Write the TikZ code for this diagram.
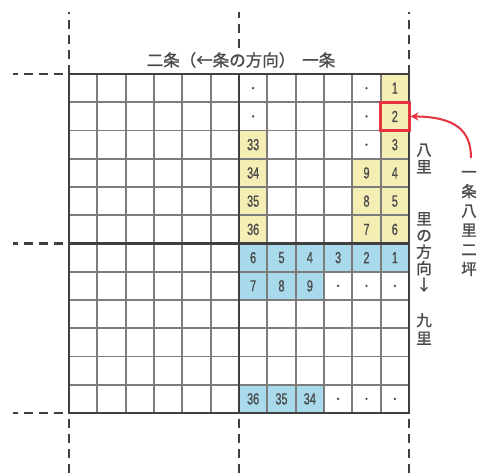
\documentclass[tikz,border=0pt]{standalone}
\usepackage{fontspec}
\newfontfamily\jp[FakeBold=1.2]{Noto Sans CJK JP}
\newfontfamily\numf[FakeStretch=0.68,FakeBold=0.8]{Liberation Sans}
\usetikzlibrary{arrows.meta}
\definecolor{yel}{HTML}{F4EEB4}
\definecolor{blu}{HTML}{A8DAEC}
\definecolor{txt}{HTML}{4A4A4A}
\definecolor{gline}{HTML}{7C7C7C}
\definecolor{dline}{HTML}{404040}
\definecolor{redc}{HTML}{E5323E}
\begin{document}
\begin{tikzpicture}[x=1pt,y=-1pt,
  cellbox/.style={minimum width=28.33pt, minimum height=28.25pt, inner sep=0pt, outer sep=0pt, text=txt, font=\numf\fontsize{16}{16}\selectfont},
  ycell/.style={cellbox, fill=yel},
  bcell/.style={cellbox, fill=blu},
  dotc/.style={circle, fill=txt, inner sep=0pt, minimum size=2.6pt},
  innerline/.style={draw=gline, line width=1.9pt},
  outerline/.style={draw=dline, line width=2.5pt},
  dashline/.style={draw=dline, line width=2.5pt, dash pattern=on 9pt off 6pt},
  jplabel/.style={text=txt, inner sep=0pt, align=center},
  redline/.style={draw=redc, line width=2pt}
]
\def\W{28.3333}\def\H{28.25}
\useasboundingbox (0,0) rectangle (477,474);
% fills
\foreach \c/\r/\t in {11/0/1,11/1/2,11/2/3,11/3/4,11/4/5,11/5/6,10/3/9,10/4/8,10/5/7,6/2/33,6/3/34,6/4/35,6/5/36}
  \node[ycell] (y-\c-\r) at ({69+(\c+0.5)*\W},{74+(\r+0.5)*\H}) {\t};
\foreach \c/\r/\t in {6/6/6,7/6/5,8/6/4,9/6/3,10/6/2,11/6/1,6/7/7,7/7/8,8/7/9,6/11/36,7/11/35,8/11/34}
  \node[bcell] (b-\c-\r) at ({69+(\c+0.5)*\W},{74+(\r+0.5)*\H}) {\t};
\foreach \c/\r in {6/0,6/1,10/0,10/1,10/2,9/7,10/7,11/7,9/11,10/11,11/11}
  \node[dotc] (d-\c-\r) at ({69+(\c+0.5)*\W},{74+(\r+0.5)*\H}) {};
% grid
\foreach \i in {1,...,11} {
  \draw[innerline] ({69+\i*\W},74) -- ({69+\i*\W},413);
  \draw[innerline] (69,{74+\i*\H}) -- (409,{74+\i*\H});
}
\draw[outerline] (69,74) rectangle (409,413);
\draw[outerline] ({69+6*\W},74) -- ({69+6*\W},413);
\draw[outerline] (69,{74+6*\H}) -- (409,{74+6*\H});
% dashed extensions
\draw[dashline] (69,74) -- (69,12);
\draw[dashline] ({69+6*\W},48) -- ({69+6*\W},12);
\draw[dashline] (409,74) -- (409,12);
\foreach \x in {69,239,409}
  \draw[dashline] (\x,419) -- (\x,476);
\foreach \y in {74,243.5,413}
  \draw[dashline] (63,\y) -- (13,\y);
% red box
\node[draw=redc, line width=3pt, minimum width=28.33pt, minimum height=28.25pt, inner sep=0pt] (redbox) at ({69+11.5*\W},{74+1.5*\H}) {};
% labels
\node[jplabel, font=\jp\fontsize{16.5}{17}\selectfont] (top) at (241,60) {二条（←条の方向）\hspace{7pt}一条};
\node[jplabel, font=\jp\fontsize{15.5}{17}\selectfont] (hachi) at (424,158.5) {八\\里};
\node[jplabel, font=\jp\fontsize{15.5}{16.5}\selectfont] (dir) at (424,252) {里\\の\\方\\向\\↓};
\node[jplabel, font=\jp\fontsize{15.5}{18}\selectfont] (kyu) at (424,329) {九\\里};
\node[jplabel, font=\jp\fontsize{15.5}{19.4}\selectfont] (lbl) at (469,223.5) {一\\条\\八\\里\\二\\坪};
\coordinate (astart) at (471,158);
\draw[redline, -{Stealth[length=8pt,width=8pt]}] (astart) .. controls (471,130) and (455,117) .. (redbox.east);
\end{tikzpicture}
\end{document}
